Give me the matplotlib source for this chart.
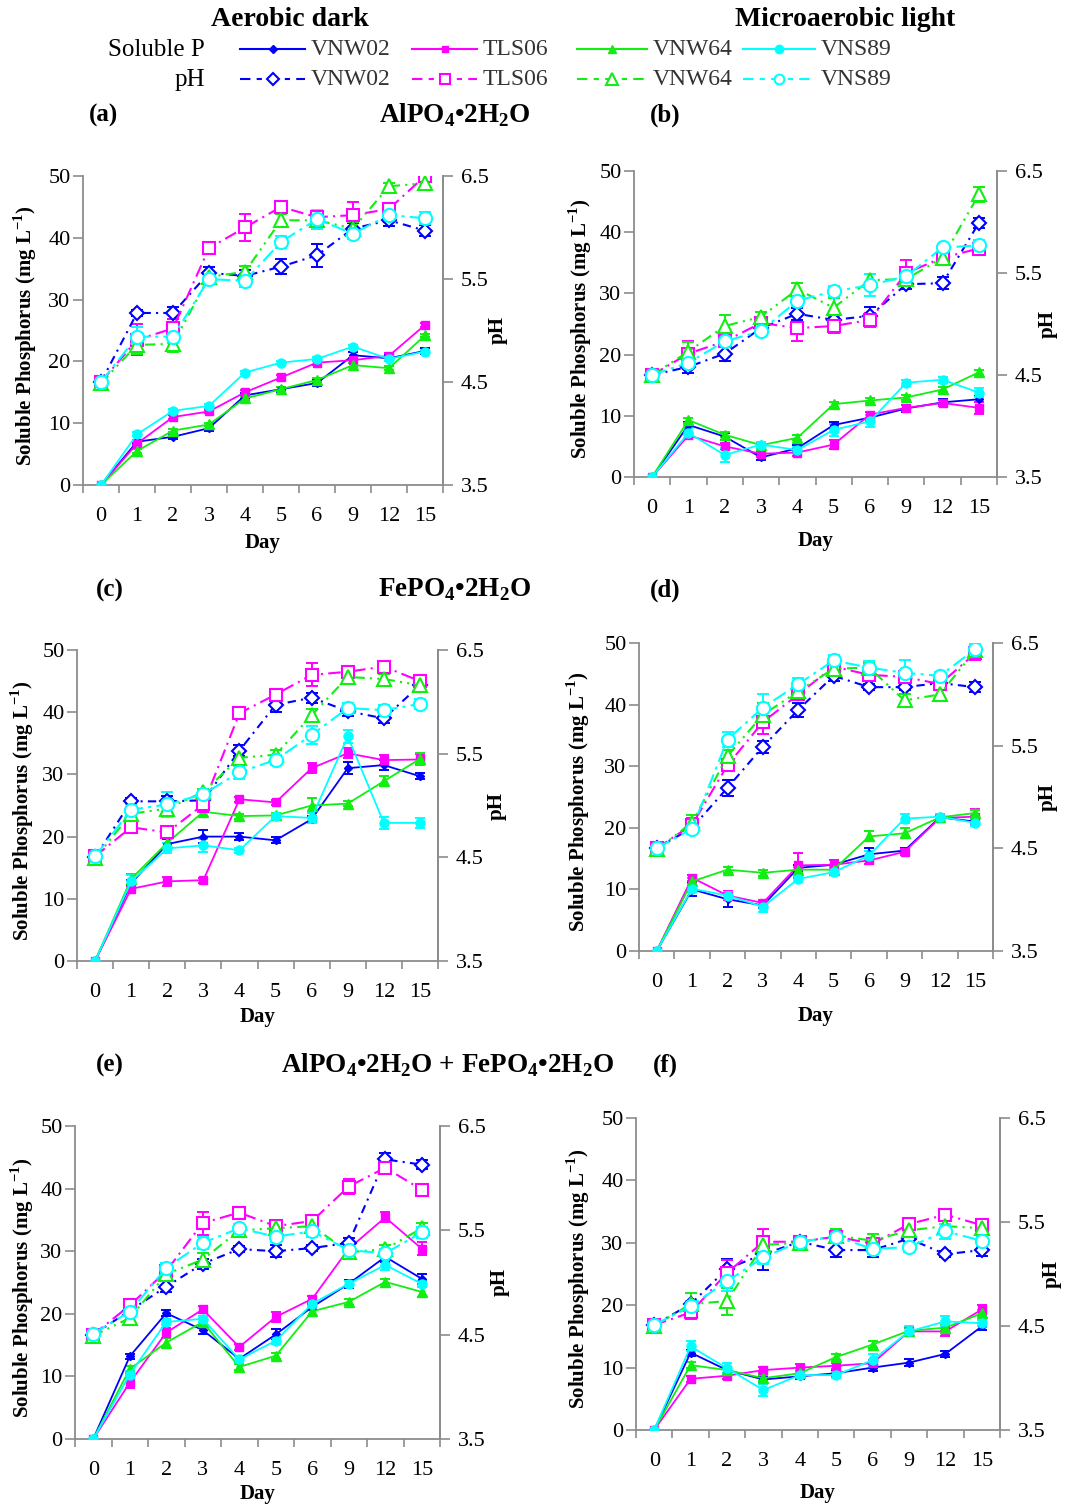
import matplotlib
matplotlib.use('Agg')
import matplotlib.pyplot as plt
import numpy as np

plt.rcParams['font.family'] = ['Liberation Serif', 'DejaVu Serif']
plt.rcParams['mathtext.fontset'] = 'custom'
plt.rcParams['mathtext.rm'] = 'Liberation Serif'
plt.rcParams['mathtext.bf'] = 'Liberation Serif:bold'

days = ['0', '1', '2', '3', '4', '5', '6', '9', '12', '15']
strains = ['VNW02', 'TLS06', 'VNW64', 'VNS89']

# ---------------- (a) AlPO4, aerobic dark ----------------
a_P = [[0, 7.0, 7.8, 9.2, 14.5, 15.5, 16.5, 21.0, 20.5, 21.7],
       [0, 6.7, 11.0, 11.9, 15.0, 17.4, 19.8, 20.2, 20.9, 25.9],
       [0, 5.5, 8.8, 9.8, 14.0, 15.5, 17.0, 19.4, 18.9, 24.2],
       [0, 8.2, 12.0, 12.8, 18.2, 19.8, 20.4, 22.4, 20.4, 21.6]]
a_P_err = [[0, 0.3, 0.4, 0.4, 0.4, 0.4, 0.5, 0.5, 0.5, 0.5],
           [0, 0.3, 0.3, 0.3, 0.4, 0.4, 0.4, 0.4, 0.4, 0.3],
           [0, 0.3, 0.3, 0.3, 0.3, 0.3, 0.3, 0.3, 0.3, 0.3],
           [0, 0.3, 0.3, 0.3, 0.3, 0.3, 0.3, 0.3, 0.3, 0.3]]
a_pH = [[4.50, 5.17, 5.17, 5.56, 5.53, 5.62, 5.73, 5.99, 6.07, 5.97],
        [4.50, 4.91, 5.02, 5.80, 6.00, 6.20, 6.10, 6.12, 6.18, 6.50],
        [4.49, 4.86, 4.87, 5.52, 5.57, 6.07, 6.07, 5.99, 6.40, 6.43],
        [4.50, 4.94, 4.94, 5.50, 5.48, 5.86, 6.08, 5.94, 6.12, 6.09]]
a_pH_err = [[0, 0.03, 0.06, 0.06, 0.06, 0.07, 0.11, 0.05, 0.06, 0.05],
            [0, 0.15, 0.09, 0.05, 0.13, 0.06, 0.06, 0.13, 0.06, 0.03],
            [0, 0.09, 0.08, 0.05, 0.06, 0.06, 0.08, 0.06, 0.03, 0.06],
            [0, 0.09, 0.06, 0.05, 0.06, 0.06, 0.09, 0.05, 0.03, 0.06]]

# ---------------- (b) AlPO4, microaerobic light ----------------
b_P = [[0, 8.5, 6.6, 3.2, 4.7, 8.5, 9.7, 11.2, 12.2, 12.7],
       [0, 6.8, 5.0, 3.8, 4.0, 5.3, 10.2, 11.3, 12.1, 11.3],
       [0, 9.3, 6.9, 5.2, 6.4, 11.9, 12.5, 13.0, 14.3, 17.1],
       [0, 7.2, 3.6, 5.3, 4.4, 7.7, 9.1, 15.4, 15.9, 13.8]]
b_P_err = [[0, 0.5, 0.6, 0.5, 0.5, 0.5, 0.5, 0.5, 0.5, 0.5],
           [0, 0.5, 0.5, 0.5, 0.5, 0.8, 0.5, 0.5, 0.5, 1.0],
           [0, 0.4, 0.4, 0.4, 0.4, 0.4, 0.4, 0.4, 0.4, 0.4],
           [0, 0.8, 1.2, 0.5, 0.5, 1.0, 1.0, 0.5, 0.5, 0.8]]
b_pH = [[4.50, 4.58, 4.71, 4.96, 5.10, 5.04, 5.08, 5.39, 5.40, 5.99],
        [4.50, 4.71, 4.83, 5.01, 4.96, 4.98, 5.04, 5.50, 5.65, 5.74],
        [4.50, 4.73, 4.98, 5.07, 5.34, 5.16, 5.43, 5.44, 5.65, 6.27],
        [4.50, 4.62, 4.83, 4.93, 5.23, 5.32, 5.38, 5.47, 5.75, 5.77]]
b_pH_err = [[0, 0.06, 0.07, 0.05, 0.06, 0.06, 0.09, 0.05, 0.06, 0.05],
            [0, 0.12, 0.05, 0.05, 0.13, 0.07, 0.07, 0.13, 0.05, 0.03],
            [0, 0.09, 0.11, 0.05, 0.06, 0.09, 0.06, 0.05, 0.05, 0.07],
            [0, 0.06, 0.05, 0.05, 0.05, 0.05, 0.11, 0.05, 0.03, 0.05]]

# ---------------- (c) FePO4, aerobic dark ----------------
c_P = [[0, 12.5, 18.8, 20.0, 20.0, 19.4, 22.8, 31.0, 31.5, 29.7],
       [0, 11.6, 12.8, 13.0, 26.0, 25.5, 31.0, 33.4, 32.3, 32.4],
       [0, 13.2, 19.0, 24.0, 23.3, 23.4, 25.0, 25.3, 28.9, 32.5],
       [0, 12.8, 18.1, 18.6, 17.8, 23.3, 23.0, 36.1, 22.2, 22.2]]
c_P_err = [[0, 0.5, 0.8, 1.0, 0.5, 0.5, 0.5, 1.0, 0.8, 0.5],
           [0, 0.5, 0.7, 0.4, 0.4, 0.4, 0.8, 0.8, 0.8, 0.8],
           [0, 0.8, 0.8, 0.8, 0.4, 0.4, 1.2, 0.4, 0.8, 1.0],
           [0, 1.0, 0.8, 1.0, 0.4, 0.4, 0.8, 1.0, 1.0, 0.8]]
c_pH = [[4.50, 5.04, 5.04, 5.05, 5.53, 5.97, 6.04, 5.91, 5.84, 6.16],
        [4.51, 4.79, 4.74, 5.01, 5.89, 6.07, 6.26, 6.29, 6.34, 6.20],
        [4.49, 4.92, 4.97, 5.13, 5.46, 5.49, 5.87, 6.24, 6.22, 6.16],
        [4.51, 4.96, 5.01, 5.11, 5.32, 5.44, 5.68, 5.94, 5.92, 5.98]]
c_pH_err = [[0, 0.03, 0.05, 0.05, 0.05, 0.07, 0.05, 0.05, 0.04, 0.05],
            [0, 0.06, 0.05, 0.07, 0.03, 0.05, 0.11, 0.05, 0.03, 0.03],
            [0, 0.05, 0.06, 0.03, 0.06, 0.05, 0.06, 0.05, 0.05, 0.05],
            [0, 0.05, 0.12, 0.03, 0.06, 0.05, 0.09, 0.05, 0.05, 0.05]]

# ---------------- (d) FePO4, microaerobic light ----------------
d_P = [[0, 10.0, 8.4, 7.4, 13.5, 14.0, 15.7, 16.3, 21.7, 21.0],
       [0, 11.9, 9.0, 7.8, 13.9, 14.0, 14.7, 16.1, 21.6, 21.8],
       [0, 11.3, 13.2, 12.7, 13.2, 13.2, 18.6, 19.1, 21.7, 22.4],
       [0, 10.1, 9.0, 7.2, 11.7, 12.8, 15.5, 21.5, 21.8, 20.8]]
d_P_err = [[0, 1.0, 1.2, 0.5, 0.5, 0.8, 1.0, 0.5, 0.5, 0.5],
           [0, 0.5, 0.8, 0.5, 2.0, 0.8, 0.5, 0.5, 0.5, 1.2],
           [0, 0.5, 0.5, 0.5, 0.5, 0.5, 0.8, 0.8, 0.5, 0.5],
           [0, 0.5, 0.5, 0.8, 0.5, 0.5, 0.8, 0.8, 0.5, 0.5]]
d_pH = [[4.50, 4.70, 5.09, 5.49, 5.85, 6.18, 6.07, 6.07, 6.11, 6.07],
        [4.50, 4.73, 5.31, 5.73, 6.00, 6.27, 6.19, 6.17, 6.10, 6.40],
        [4.49, 4.75, 5.40, 5.80, 6.03, 6.25, 6.26, 5.94, 6.00, 6.43],
        [4.50, 4.69, 5.56, 5.87, 6.10, 6.33, 6.26, 6.21, 6.18, 6.44]]
d_pH_err = [[0, 0.03, 0.08, 0.06, 0.07, 0.05, 0.03, 0.03, 0.03, 0.05],
            [0, 0.07, 0.06, 0.12, 0.06, 0.05, 0.06, 0.06, 0.06, 0.07],
            [0, 0.07, 0.06, 0.12, 0.06, 0.05, 0.05, 0.06, 0.05, 0.09],
            [0, 0.05, 0.07, 0.13, 0.06, 0.05, 0.06, 0.12, 0.04, 0.05]]

# ---------------- (e) AlPO4 + FePO4, aerobic dark ----------------
e_P = [[0, 13.2, 20.1, 17.4, 12.8, 16.7, 21.1, 24.8, 29.1, 25.6],
       [0, 9.0, 17.0, 20.7, 14.7, 19.5, 22.4, 30.4, 35.4, 30.4],
       [0, 11.2, 15.4, 18.7, 11.5, 13.3, 20.4, 21.9, 25.1, 23.5],
       [0, 10.3, 18.7, 19.2, 12.7, 15.7, 21.6, 24.8, 27.8, 24.8]]
e_P_err = [[0, 0.4, 0.5, 0.6, 0.5, 0.8, 0.5, 0.6, 0.8, 0.8],
           [0, 0.8, 0.8, 0.5, 0.5, 0.8, 0.5, 0.8, 0.8, 1.0],
           [0, 0.5, 0.8, 0.5, 0.5, 0.5, 0.8, 0.5, 0.5, 0.8],
           [0, 0.5, 0.5, 0.5, 0.5, 0.5, 0.5, 0.5, 0.8, 0.5]]
e_pH = [[4.50, 4.73, 4.96, 5.18, 5.32, 5.30, 5.33, 5.38, 6.18, 6.13],
        [4.50, 4.78, 5.11, 5.57, 5.67, 5.54, 5.59, 5.92, 6.10, 5.89],
        [4.49, 4.66, 5.08, 5.22, 5.50, 5.52, 5.54, 5.29, 5.32, 5.52],
        [4.51, 4.72, 5.14, 5.38, 5.52, 5.44, 5.49, 5.31, 5.28, 5.48]]
e_pH_err = [[0, 0.03, 0.05, 0.05, 0.03, 0.06, 0.03, 0.05, 0.06, 0.04],
            [0, 0.05, 0.05, 0.11, 0.03, 0.05, 0.05, 0.07, 0.05, 0.05],
            [0, 0.05, 0.05, 0.06, 0.04, 0.05, 0.05, 0.04, 0.04, 0.05],
            [0, 0.03, 0.05, 0.06, 0.04, 0.05, 0.05, 0.04, 0.04, 0.05]]

# ---------------- (f) AlPO4 + FePO4, microaerobic light ----------------
f_P = [[0, 12.4, 9.6, 8.1, 8.6, 9.1, 10.0, 10.8, 12.2, 16.6],
       [0, 8.2, 8.7, 9.6, 10.0, 10.3, 10.7, 15.8, 15.8, 19.3],
       [0, 10.4, 9.6, 8.3, 9.1, 11.7, 13.7, 15.9, 16.4, 18.7],
       [0, 13.4, 9.9, 6.4, 8.8, 8.8, 11.2, 15.8, 17.4, 17.1]]
f_P_err = [[0, 0.5, 0.5, 0.5, 0.5, 0.5, 0.5, 0.5, 0.5, 0.5],
           [0, 0.5, 0.5, 0.5, 0.5, 0.5, 0.5, 0.5, 0.8, 0.8],
           [0, 0.5, 0.5, 0.5, 0.5, 0.5, 0.5, 0.5, 0.5, 0.5],
           [0, 0.8, 0.8, 1.0, 0.5, 0.5, 1.0, 0.8, 0.8, 0.5]]
f_pH = [[4.51, 4.71, 5.05, 5.19, 5.31, 5.23, 5.23, 5.34, 5.19, 5.23],
        [4.51, 4.63, 5.01, 5.31, 5.31, 5.36, 5.29, 5.48, 5.57, 5.47],
        [4.50, 4.71, 4.74, 5.28, 5.30, 5.37, 5.32, 5.42, 5.46, 5.44],
        [4.51, 4.69, 4.93, 5.16, 5.31, 5.36, 5.24, 5.26, 5.41, 5.32]]
f_pH_err = [[0, 0.03, 0.09, 0.15, 0.03, 0.07, 0.07, 0.05, 0.03, 0.06],
            [0, 0.06, 0.12, 0.12, 0.03, 0.06, 0.06, 0.05, 0.03, 0.03],
            [0, 0.11, 0.13, 0.06, 0.03, 0.06, 0.06, 0.05, 0.05, 0.05],
            [0, 0.05, 0.09, 0.06, 0.03, 0.05, 0.05, 0.05, 0.07, 0.05]]

# ---------------- styles ----------------
colors = ['#0000FF', '#FF00FF', '#11EE11', '#00FFFF']
p_markers = ['D', 's', '^', 'o']
p_ms = [4.5, 5.5, 6.5, 6.5]
ph_ms = [7.5, 9, 10, 9.5]
ph_dash = [(0, (4, 2.5, 1, 2.5)), (0, (6, 2.5, 1, 2.5)), (0, (5, 2.5, 1, 2.5, 1, 2.5)),
           (0, (7, 2.5, 1.5, 2.5))]
grey = '#8c8c8c'

W, H = 1066, 1506
fig = plt.figure(figsize=(W / 100, H / 100), dpi=100)


def fx(x):
    return x / W


def fy(y):
    return 1 - y / H


panels = [
    ('a', (83, 176, 443, 485), a_P, a_P_err, a_pH, a_pH_err, 25, 498, 543),
    ('b', (634, 171, 997, 477), b_P, b_P_err, b_pH, b_pH_err, 580, 1048, 541),
    ('c', (77, 650, 438, 961), c_P, c_P_err, c_pH, c_pH_err, 22, 497, 1017),
    ('d', (639, 643, 993, 951), d_P, d_P_err, d_pH, d_pH_err, 578, 1048, 1016),
    ('e', (75, 1126, 440, 1439), e_P, e_P_err, e_pH, e_pH_err, 22, 500, 1494),
    ('f', (636, 1118, 1000, 1430), f_P, f_P_err, f_pH, f_pH_err, 578, 1052, 1493),
]

x = np.arange(len(days))
tick_fs = 16
for name, (l, t, r, b), P, Pe, pH, pHe, ylx, phx, dayy in panels:
    ax = fig.add_axes([fx(l), fy(b), (r - l) / W, (b - t) / H])
    ax2 = ax.twinx()
    ax.set_xlim(-0.5, len(days) - 0.5)
    ax.set_ylim(0, 50)
    ax2.set_ylim(3.5, 6.5)
    ax.set_yticks([0, 10, 20, 30, 40, 50])
    ax2.set_yticks([3.5, 4.5, 5.5, 6.5])
    ax2.set_yticklabels(['3.5', '4.5', '5.5', '6.5'])
    ax.set_xticks(x)
    ax.set_xticklabels(days)
    ax.set_xticks(np.arange(-0.5, len(days)), minor=True)
    ax.tick_params(axis='x', which='major', length=0, pad=16, labelsize=tick_fs)
    ax.tick_params(axis='x', which='minor', length=6, width=1.2, color=grey, direction='out')
    ax.tick_params(axis='y', length=7, width=1.2, color=grey, pad=2, labelsize=tick_fs)
    ax2.tick_params(axis='y', length=7, width=1.2, color=grey, pad=6, labelsize=tick_fs)
    for a_ in (ax, ax2):
        a_.spines['top'].set_visible(False)
        for s in ('left', 'right', 'bottom'):
            a_.spines[s].set_color(grey)
            a_.spines[s].set_linewidth(1.3)
        a_.patch.set_visible(False)
    ax2.spines['left'].set_visible(False)
    ax2.spines['bottom'].set_visible(False)

    for i in range(4):
        c = colors[i]
        ax.errorbar(x, P[i], yerr=Pe[i], fmt='none', ecolor=c, elinewidth=1.4,
                    capsize=3.5, capthick=1.4, zorder=2)
        ax.plot(x, P[i], color=c, lw=1.3, marker=p_markers[i], ms=p_ms[i],
                mfc=c, mec=c, zorder=3)
        ax2.errorbar(x, pH[i], yerr=pHe[i], fmt='none', ecolor=c, elinewidth=1.4,
                     capsize=4.5, capthick=1.4, zorder=2)
        ax2.plot(x, pH[i], color=c, lw=1.5, linestyle=ph_dash[i], marker=p_markers[i],
                 ms=ph_ms[i], mfc='white', mec=c, mew=1.5, zorder=3)

    cy = (t + b) / 2
    fig.text(fx(ylx), fy(cy + 5), r'Soluble Phosphorus (mg L$^{\mathbf{-1}}$)', rotation=90,
             ha='center', va='center', fontsize=15, fontweight='bold')
    fig.text(fx(phx), fy(cy), 'pH', rotation=90, ha='center', va='center',
             fontsize=15, fontweight='bold')
    fig.text(fx((l + r) / 2), fy(dayy), 'Day', ha='center', va='center',
             fontsize=15, fontweight='bold')

# ---------------- titles and panel labels ----------------
fig.text(fx(290), fy(20), 'Aerobic dark', ha='center', va='center', fontsize=20, fontweight='bold')
fig.text(fx(845), fy(20), 'Microaerobic light', ha='center', va='center', fontsize=20, fontweight='bold')

lab_fs = 18
cmp_fs = 19.5
for lbl, lx, ly in [('(a)', 103, 115), ('(b)', 665, 115), ('(c)', 110, 590),
                    ('(d)', 665, 590), ('(e)', 110, 1065), ('(f)', 665, 1065)]:
    fig.text(fx(lx), fy(ly), lbl, ha='center', va='center', fontsize=lab_fs, fontweight='bold')

fig.text(fx(455), fy(115), r'AlPO$_\mathbf{4}$•2H$_\mathbf{2}$O', ha='center', va='center',
         fontsize=cmp_fs, fontweight='bold')
fig.text(fx(455), fy(590), r'FePO$_\mathbf{4}$•2H$_\mathbf{2}$O', ha='center', va='center',
         fontsize=cmp_fs, fontweight='bold')
fig.text(fx(448), fy(1065), r'AlPO$_\mathbf{4}$•2H$_\mathbf{2}$O + FePO$_\mathbf{4}$•2H$_\mathbf{2}$O',
         ha='center', va='center', fontsize=cmp_fs, fontweight='bold')

# ---------------- legend ----------------
lax = fig.add_axes([0, 0, 1, 1])
lax.set_xlim(0, W)
lax.set_ylim(H, 0)
lax.axis('off')
fig.text(fx(205), fy(50), 'Soluble P', ha='right', va='center', fontsize=18)
fig.text(fx(205), fy(80), 'pH', ha='right', va='center', fontsize=18)
leg_x = [(240, 305), (412, 477), (577, 647), (743, 815)]
leg_open_ms = [6.5, 7, 8, 7]
for i, (x0, x1) in enumerate(leg_x):
    c = colors[i]
    xm = (x0 + x1) / 2
    lax.plot([x0, x1], [49, 49], color=c, lw=1.5)
    lax.plot([xm], [49], marker=p_markers[i], ms=p_ms[i] - 0.5, color=c)
    lax.plot([x0, x1], [79, 79], color=c, lw=1.5, linestyle=(0, (5, 3, 2.5, 3)))
    lax.plot([xm], [79], marker=p_markers[i], ms=leg_open_ms[i], mfc='white', mec=c, mew=1.5)
    for yy in (49, 79):
        lax.text(x1 + 6, yy, strains[i], ha='left', va='center', fontsize=17, color='#333333')

fig.savefig('out.png', dpi=100)
